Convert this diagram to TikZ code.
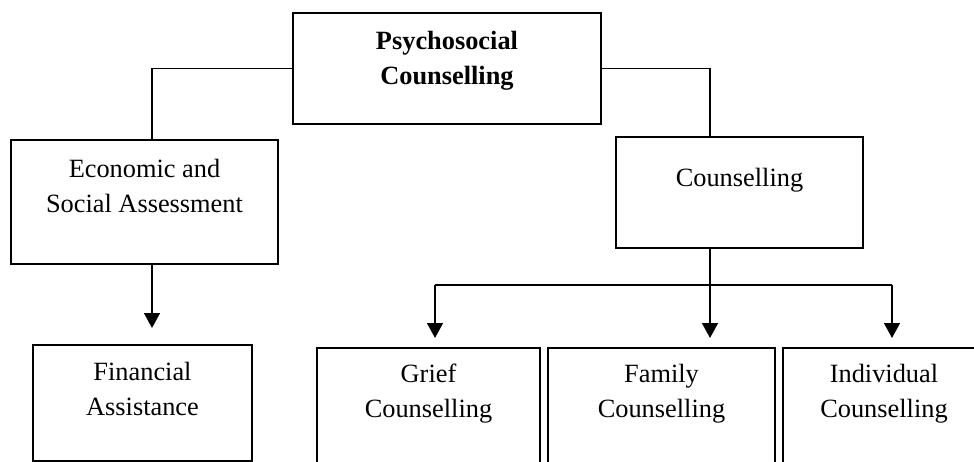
\documentclass[tikz,border=0pt]{standalone}
\usepackage{fontspec}
\setmainfont{Liberation Serif}
\usetikzlibrary{positioning,arrows.meta}

\begin{document}
\begin{tikzpicture}[x=0.02cm, y=-0.02cm,
    box/.style={draw, line width=1.1pt, inner sep=0pt},
    txt/.style={align=center, anchor=base, font=\fontsize{15}{20}\selectfont},
    conn/.style={line width=0.6pt},
    arr/.style={line width=1.1pt, -{Triangle[length=8.5pt, width=9pt]}}]
\useasboundingbox (0,0) rectangle (974,462);
\clip (0,0) rectangle (974,462);

% Boxes
\node[box, minimum width=6.16cm, minimum height=2.22cm] (psych) at (447,68.5) {};
\node[box, minimum width=5.34cm, minimum height=2.48cm] (econ) at (144.5,202) {};
\node[box, minimum width=4.94cm, minimum height=2.22cm] (couns) at (739.5,192.5) {};
\node[box, minimum width=4.38cm, minimum height=2.32cm] (fin) at (142.5,403) {};
\foreach \name/\cx/\w in {grief/428.5/4.46cm, family/661.5/4.54cm, indiv/884/4.04cm} {
    \node[box, minimum width=\w, minimum height=2.32cm] (\name) at (\cx,406) {};
}

% Texts (base = last line)
\node[txt, font=\fontsize{15}{20}\selectfont\bfseries] (psych-t) at (447,85) {Psychosocial\\Counselling};
\node[txt] (econ-t) at (144.5,213) {Economic and\\Social Assessment};
\node[txt] (couns-t) at (739.5,187) {Counselling};
\node[txt] (fin-t) at (142.5,416) {Financial\\Assistance};
\node[txt] (grief-t) at (428.5,418) {Grief\\Counselling};
\node[txt] (family-t) at (661.5,418) {Family\\Counselling};
\node[txt] (indiv-t) at (884,418) {Individual\\Counselling};

% Connectors
\draw[conn] (psych.west) -| ([xshift=0.15cm]econ.north);
\draw[conn] (psych.east) -| ([xshift=-0.59cm]couns.north);

\coordinate (fin-in) at (152,328);
\draw[arr] (econ.south -| fin-in) -- (fin-in);

\coordinate (split) at (710,285);
\coordinate (grief-in) at (435,338);
\coordinate (family-in) at (710,338);
\coordinate (indiv-in) at (892,338);
\draw[conn] (couns.south -| split) -- (split);
\draw[conn] (grief-in |- split) -- (indiv-in |- split);
\foreach \name in {grief,family,indiv} {
    \draw[arr] (\name-in |- split) -- (\name-in);
}
\end{tikzpicture}
\end{document}
